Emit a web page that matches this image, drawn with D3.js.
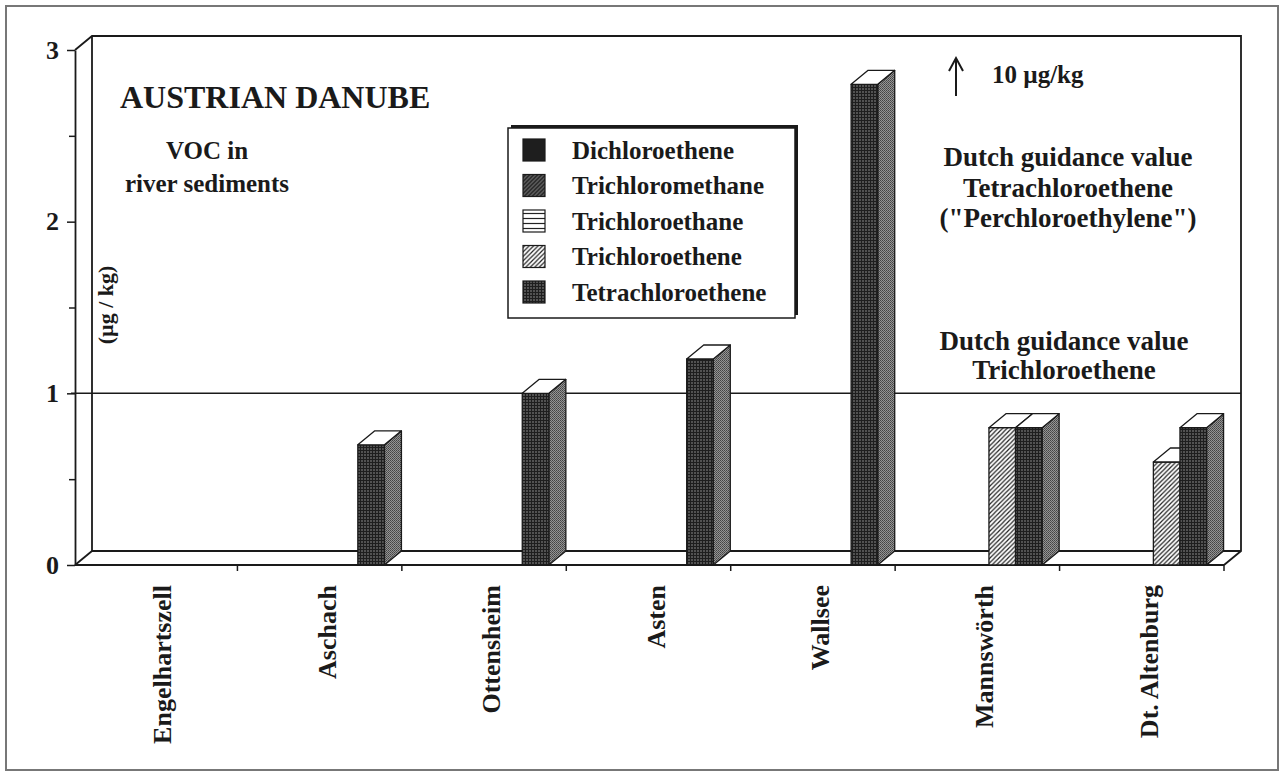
<!DOCTYPE html>
<html>
<head>
<meta charset="utf-8">
<script src="https://cdn.jsdelivr.net/npm/d3@7"></script>
<style>
  body { margin: 0; background: #fff; }
  svg { display: block; }
  text { font-family: "Liberation Serif", "Times New Roman", serif; font-weight: bold; fill: #1a1a1a; }
</style>
</head>
<body>
<div id="wrapper"></div>
<script>
// data (µg/kg)
const categories = ["Engelhartszell", "Aschach", "Ottensheim", "Asten", "Wallsee", "Mannswörth", "Dt. Altenburg"];
const seriesNames = ["Dichloroethene", "Trichloromethane", "Trichloroethane", "Trichloroethene", "Tetrachloroethene"];
const dichloroethene    = [0, 0, 0, 0, 0, 0, 0];
const trichloromethane  = [0, 0, 0, 0, 0, 0, 0];
const trichloroethane   = [0, 0, 0, 0, 0, 0, 0];
const trichloroethene   = [0, 0, 0, 0, 0, 0.8, 0.6];
const tetrachloroethene = [0, 0.7, 1.0, 1.2, 2.8, 0.8, 0.8]; // Wallsee bar is broken, real value 10
const yTicks = [0, 1, 2, 3];
const yMinorTicks = [0.5, 1.5, 2.5];
const guidanceTrichloroethene = 1;

const seriesValues = [dichloroethene, trichloromethane, trichloroethane, trichloroethene, tetrachloroethene];

const dimensions = {
  width: 1284,
  height: 777,
  left: 75,
  right: 1224,
  top: 50,
  bottom: 565,
  depthX: 17,
  depthY: 14,
};

const svg = d3.select("#wrapper").append("svg")
  .attr("width", dimensions.width)
  .attr("height", dimensions.height);

// patterns for the fills
const defs = svg.append("defs");

const tetraFront = defs.append("pattern").attr("id", "tetraFront")
  .attr("width", 3).attr("height", 3).attr("patternUnits", "userSpaceOnUse");
tetraFront.append("rect").attr("width", 3).attr("height", 3).attr("fill", "#525252");
tetraFront.append("path").attr("d", "M0,0.5H3M0.5,0V3").attr("stroke", "#1e1e1e").attr("stroke-width", 1);

const tetraSide = defs.append("pattern").attr("id", "tetraSide")
  .attr("width", 2).attr("height", 2).attr("patternUnits", "userSpaceOnUse");
tetraSide.append("rect").attr("width", 2).attr("height", 2).attr("fill", "#949494");
tetraSide.append("rect").attr("width", 1).attr("height", 1).attr("fill", "#444");
tetraSide.append("rect").attr("x", 1).attr("y", 1).attr("width", 1).attr("height", 1).attr("fill", "#555");

const hatchLight = defs.append("pattern").attr("id", "hatchLight")
  .attr("width", 4.5).attr("height", 4.5).attr("patternUnits", "userSpaceOnUse");
hatchLight.append("rect").attr("width", 4.5).attr("height", 4.5).attr("fill", "#fff");
hatchLight.append("path").attr("d", "M-1,5.5L5.5,-1M-1,1L1,-1M3.5,5.5L5.5,3.5").attr("stroke", "#222").attr("stroke-width", 1.2);

const hatchDark = defs.append("pattern").attr("id", "hatchDark")
  .attr("width", 4).attr("height", 4).attr("patternUnits", "userSpaceOnUse");
hatchDark.append("rect").attr("width", 4).attr("height", 4).attr("fill", "#666");
hatchDark.append("path").attr("d", "M-1,5L5,-1M-1,1L1,-1M3,5L5,3").attr("stroke", "#1a1a1a").attr("stroke-width", 1.3);

const horiz = defs.append("pattern").attr("id", "horiz")
  .attr("width", 5).attr("height", 5).attr("patternUnits", "userSpaceOnUse");
horiz.append("rect").attr("width", 5).attr("height", 5).attr("fill", "#fff");
horiz.append("path").attr("d", "M0,2.5H5").attr("stroke", "#222").attr("stroke-width", 1.2);

const frontFills = ["#1e1e1e", "url(#hatchDark)", "url(#horiz)", "url(#hatchLight)", "url(#tetraFront)"];
const sideFills = ["#3a3a3a", "#555", "#ddd", "#ccc", "url(#tetraSide)"];

// outer frame
svg.append("rect")
  .attr("x", 6).attr("y", 6)
  .attr("width", dimensions.width - 12).attr("height", dimensions.height - 13)
  .attr("fill", "none").attr("stroke", "#777").attr("stroke-width", 2);

// scales
const yScale = d3.scaleLinear().domain([0, 3]).range([dimensions.bottom, dimensions.top]);
const xScale = d3.scaleBand().domain(categories).range([dimensions.left - 2, dimensions.right]);
const seriesScale = d3.scaleBand().domain(seriesNames).range([14, 147]);

const dx = dimensions.depthX, dy = dimensions.depthY;
const lineColor = "#1a1a1a";

// walls and floor
const walls = svg.append("g").attr("fill", "none").attr("stroke", lineColor).attr("stroke-width", 1.8);
const bx0 = dimensions.left + dx, bx1 = dimensions.right + dx;
const by0 = yScale(3) - dy, by1 = yScale(0) - dy;
walls.append("path").attr("d", `M${dimensions.left},${yScale(3)}L${bx0},${by0}H${bx1}V${by1}L${dimensions.right},${yScale(0)}`);
walls.append("path").attr("d", `M${bx0},${by0}V${by1}H${bx1}`);
walls.append("path").attr("d", `M${dimensions.left},${yScale(0)}L${bx0},${by1}`);

// guidance line at 1 µg/kg
svg.append("line")
  .attr("x1", dimensions.left - 4).attr("x2", bx1)
  .attr("y1", yScale(guidanceTrichloroethene)).attr("y2", yScale(guidanceTrichloroethene))
  .attr("stroke", lineColor).attr("stroke-width", 1.5);

// y axis
const yAxis = svg.append("g")
  .attr("transform", `translate(${dimensions.left},0)`)
  .call(d3.axisLeft(yScale).tickValues(yTicks).tickSize(8).tickSizeOuter(0).tickPadding(8).tickFormat(d3.format("d")));
yAxis.select(".domain").attr("stroke", lineColor).attr("stroke-width", 1.8);
yAxis.selectAll(".tick line").attr("stroke", lineColor).attr("stroke-width", 1.5);
yAxis.selectAll(".tick text").style("font-size", "26px").attr("fill", "#1a1a1a");
const yMinor = svg.append("g")
  .attr("transform", `translate(${dimensions.left},0)`)
  .call(d3.axisLeft(yScale).tickValues(yMinorTicks).tickSize(6).tickSizeOuter(0).tickFormat(""));
yMinor.select(".domain").remove();
yMinor.selectAll(".tick line").attr("stroke", lineColor).attr("stroke-width", 1.5);

// x axis: front floor line with ticks at band edges
svg.append("line")
  .attr("x1", dimensions.left).attr("x2", dimensions.right)
  .attr("y1", yScale(0)).attr("y2", yScale(0))
  .attr("stroke", lineColor).attr("stroke-width", 1.8);
svg.append("g").selectAll("line")
  .data(categories.slice(1).concat(["end"]))
  .join("line")
  .attr("x1", d => d === "end" ? dimensions.right : xScale(d))
  .attr("x2", d => d === "end" ? dimensions.right : xScale(d))
  .attr("y1", yScale(0)).attr("y2", yScale(0) + 6)
  .attr("stroke", lineColor).attr("stroke-width", 1.5);

svg.append("g").selectAll("text")
  .data(categories)
  .join("text")
  .attr("transform", d => `translate(${xScale(d) + xScale.bandwidth() / 2 + 7},585) rotate(-90)`)
  .attr("text-anchor", "end")
  .attr("dy", "0.35em")
  .style("font-size", "26px")
  .text(d => d);

// 3d bars
const bars = svg.append("g").attr("stroke", lineColor).attr("stroke-width", 1.3).attr("stroke-linejoin", "round");
categories.forEach((cat, ci) => {
  seriesNames.forEach((s, si) => {
    const v = seriesValues[si][ci];
    if (!v) return;
    const x0 = xScale(cat) + seriesScale(s);
    const x1 = x0 + seriesScale.bandwidth();
    const yTop = yScale(v), yBot = yScale(0);
    bars.append("path")
      .attr("d", `M${x1},${yBot}L${x1 + dx},${yBot - dy}V${yTop - dy}L${x1},${yTop}Z`)
      .attr("fill", sideFills[si]);
    bars.append("rect")
      .attr("x", x0).attr("y", yTop)
      .attr("width", x1 - x0).attr("height", yBot - yTop)
      .attr("fill", frontFills[si]);
    bars.append("path")
      .attr("d", `M${x0},${yTop}L${x0 + dx},${yTop - dy}H${x1 + dx}L${x1},${yTop}Z`)
      .attr("fill", "#fff");
  });
});

// titles and notes
svg.append("text").attr("x", 120).attr("y", 108).style("font-size", "32px").text("AUSTRIAN DANUBE");
const voc = svg.append("text").attr("text-anchor", "middle").style("font-size", "25px");
voc.append("tspan").attr("x", 207).attr("y", 159).text("VOC in");
voc.append("tspan").attr("x", 207).attr("y", 192).text("river sediments");

svg.append("text")
  .attr("transform", "translate(113,305) rotate(-90)")
  .attr("text-anchor", "middle")
  .style("font-size", "22px")
  .text("(µg / kg)");

// arrow note for Wallsee
svg.append("path").attr("d", "M956,96V60").attr("stroke", lineColor).attr("stroke-width", 2);
svg.append("path").attr("d", "M949,71L956,58L963,71").attr("fill", "none").attr("stroke", lineColor).attr("stroke-width", 2);
svg.append("text").attr("x", 992).attr("y", 83).style("font-size", "25px").text("10 µg/kg");

const note1 = svg.append("text").attr("text-anchor", "middle").style("font-size", "27px");
[["Dutch guidance value", 166], ["Tetrachloroethene", 197], ["(\"Perchloroethylene\")", 227]].forEach(([t, y]) => {
  note1.append("tspan").attr("x", 1068).attr("y", y).text(t);
});
const note2 = svg.append("text").attr("text-anchor", "middle").style("font-size", "27px");
[["Dutch guidance value", 350], ["Trichloroethene", 379]].forEach(([t, y]) => {
  note2.append("tspan").attr("x", 1064).attr("y", y).text(t);
});

// legend
const legend = svg.append("g").attr("transform", "translate(508,128)");
legend.append("rect").attr("x", 3).attr("y", -3).attr("width", 287).attr("height", 190).attr("fill", "#1a1a1a");
legend.append("rect").attr("width", 287).attr("height", 190).attr("fill", "#fff").attr("stroke", lineColor).attr("stroke-width", 1.5);
seriesNames.forEach((s, i) => {
  const row = legend.append("g").attr("transform", `translate(15,${22 + i * 35.5})`);
  row.append("rect").attr("x", 0).attr("y", -11).attr("width", 22).attr("height", 22)
    .attr("fill", frontFills[i]).attr("stroke", lineColor).attr("stroke-width", 1.2);
  row.append("text").attr("x", 49).attr("dy", "0.35em").style("font-size", "25px").text(s);
});
</script>
</body>
</html>
